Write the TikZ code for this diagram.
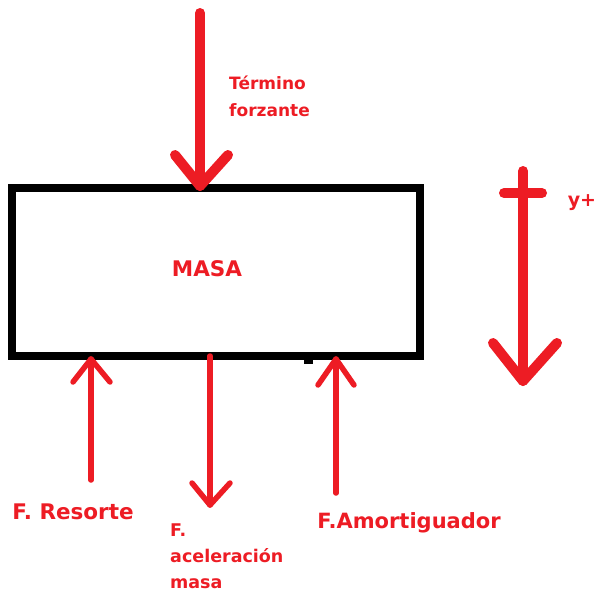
\documentclass[tikz,border=0pt]{standalone}
\usepackage{fontspec}
\setmainfont{DejaVu Sans}
\usetikzlibrary{calc}
\definecolor{pred}{HTML}{ED1C24}
\tikzset{
  bigarrow/.style={draw=pred, line width=10pt, line cap=round, line join=round},
  smallarrow/.style={draw=pred, line width=5.5pt, line cap=round, line join=round},
  lbl/.style={text=pred, font=\bfseries, inner sep=0pt, align=left},
  boxstyle/.style={draw=black, line width=8pt, inner sep=0pt}
}
\begin{document}
\begin{tikzpicture}[x=1pt,y=-1pt]
\useasboundingbox[fill=white] (0,0) rectangle (600,592);
% box
\node[boxstyle, minimum width=408pt, minimum height=168pt] (box) at (216,272) {};
\fill[black] (304,357) rectangle (313,364);
\node[lbl, font=\bfseries\fontsize{21.5}{24}\selectfont] (masa) at (207,269) {MASA};
% top forcing arrow
\coordinate (ftop) at (200,13);
\coordinate (ftip) at (200,186);
\draw[bigarrow] (ftop) -- (ftip);
\draw[bigarrow] ($(ftip)+(-25,-31)$) -- (ftip) -- ($(ftip)+(28,-31)$);
\node[lbl, anchor=north west, font=\bfseries\fontsize{17}{27}\selectfont] (forz) at (229,76) {Término\\forzante};
% y+ arrow
\coordinate (ytop) at (523,171);
\coordinate (ytip) at (523,381);
\coordinate (ybl) at (504,193);
\coordinate (ybr) at (542,193);
\draw[bigarrow] (ytop) -- (ytip);
\draw[bigarrow] (ybl) -- (ybr);
\draw[bigarrow] ($(ytip)+(-30,-38)$) -- (ytip) -- ($(ytip)+(34,-38)$);
\node[lbl, font=\bfseries\fontsize{19}{22}\selectfont] (yplus) at (582,203) {y+};
% spring force
\coordinate (rbot) at (91,480);
\coordinate (rtip) at (91,359);
\draw[smallarrow] (rbot) -- (rtip);
\draw[smallarrow] ($(rtip)+(-18,23)$) -- (rtip) -- ($(rtip)+(19,23)$);
\node[lbl, font=\bfseries\fontsize{21.5}{24}\selectfont] (res) at (73,512) {F. Resorte};
% acceleration force
\coordinate (atop) at (210,356);
\coordinate (atip) at (210,505);
\draw[smallarrow] (atop) -- (atip);
\draw[smallarrow] ($(atip)+(-18,-22)$) -- (atip) -- ($(atip)+(20,-22)$);
\node[lbl, anchor=north west, font=\bfseries\fontsize{17.5}{26}\selectfont] (acc) at (170,524) {F.\\aceleración\\masa};
% damper force
\coordinate (dbot) at (336,493);
\coordinate (dtip) at (336,359);
\draw[smallarrow] (dbot) -- (dtip);
\draw[smallarrow] ($(dtip)+(-18,26)$) -- (dtip) -- ($(dtip)+(18,26)$);
\node[lbl, font=\bfseries\fontsize{21}{24}\selectfont] (amo) at (409,523) {F.Amortiguador};
\end{tikzpicture}
\end{document}
